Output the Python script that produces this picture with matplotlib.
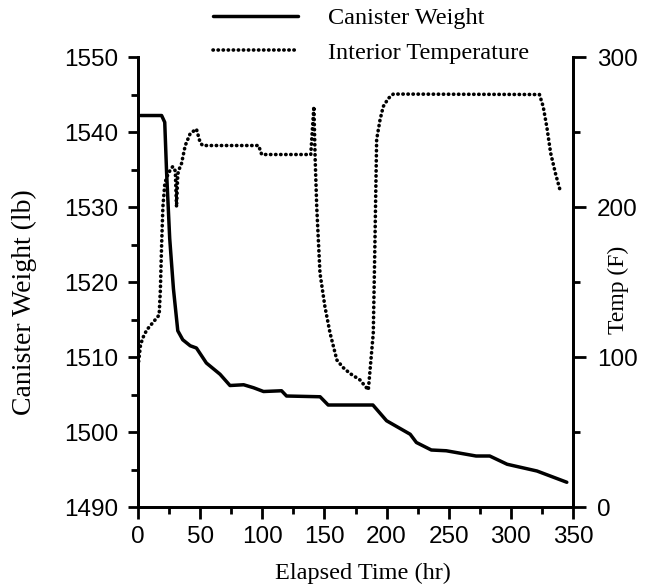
import matplotlib
matplotlib.use("Agg")
import matplotlib.pyplot as plt
from matplotlib.ticker import MultipleLocator

# ---- data ----
time_weight = [2, 19, 21.5, 23, 25.5, 28.5, 32, 36, 42, 47, 55, 66, 74, 85, 93,
               101, 115.5, 119.5, 146.5, 153, 189, 200, 219, 224, 236, 248,
               272, 283, 297, 321, 345]
weight_lb = [1542.2, 1542.2, 1541.3, 1534.6, 1525.8, 1519.1, 1513.5, 1512.3,
             1511.5, 1511.2, 1509.2, 1507.7, 1506.2, 1506.3, 1505.9, 1505.4,
             1505.5, 1504.8, 1504.7, 1503.6, 1503.6, 1501.5, 1499.7, 1498.6,
             1497.6, 1497.5, 1496.8, 1496.8, 1495.7, 1494.8, 1493.3]

time_temp = [0.5, 2, 4, 7, 11, 15, 17, 18, 19, 20, 21.5, 23, 24.5, 26, 28, 30,
             31, 32, 33.5, 35, 38, 42, 47, 50, 52, 97, 99.5, 139, 141.5, 142.5,
             143.8, 146.4, 150.4, 154.5, 160, 165, 170.6, 178.6, 185.3, 189.3,
             190.5, 192, 194.7, 197.3, 201.4, 205.4, 323, 326, 329, 332, 336, 340]
temp_f = [97, 108, 113, 118, 122, 126, 128, 145, 175, 200, 215, 220, 222, 225,
          227, 224, 200, 222, 226, 229, 241, 249, 252, 243, 241, 241, 235, 235,
          267, 233, 200, 156, 133.5, 116, 98, 93, 89, 84.7, 78, 116, 170, 245,
          258, 267, 272.4, 275.3, 275, 267, 253, 236, 222, 210]

x_ticks = [0, 50, 100, 150, 200, 250, 300, 350]
w_ticks = [1490, 1500, 1510, 1520, 1530, 1540, 1550]
t_ticks = [0, 100, 200, 300]

serif = "Liberation Serif"
sans = "Liberation Sans"

fig = plt.figure(figsize=(6.51, 5.86), dpi=100)
ax = fig.add_axes([0.2120, 0.1348, 0.6682, 0.7679])
ax2 = ax.twinx()

l1, = ax.plot(time_weight, weight_lb, color="black", lw=2.5,
              solid_joinstyle="round", solid_capstyle="round",
              label="Canister Weight")
l2, = ax2.plot(time_temp, temp_f, color="black", lw=2.6,
               linestyle=(0, (0.1, 1.3)), dash_capstyle="round",
               label="Interior Temperature")

ax.set_xlim(0, 350)
ax.set_ylim(1490, 1550)
ax2.set_ylim(0, 300)

ax.set_xticks(x_ticks)
ax.set_yticks(w_ticks)
ax2.set_yticks(t_ticks)
ax.xaxis.set_minor_locator(MultipleLocator(25))
ax.yaxis.set_minor_locator(MultipleLocator(5))
ax2.yaxis.set_minor_locator(MultipleLocator(50))

for a in (ax, ax2):
    a.spines["top"].set_visible(False)
    for s in a.spines.values():
        s.set_linewidth(2.0)
    a.tick_params(which="minor", length=5, width=2.0, direction="out")
    for lab in a.get_xticklabels() + a.get_yticklabels():
        lab.set_fontfamily(sans)

ax.tick_params(axis="x", which="major", length=8.6, width=2.0, labelsize=17.5, pad=5)
ax.tick_params(axis="y", which="major", length=7.2, width=2.0, labelsize=17.5, pad=7)
ax2.tick_params(axis="y", which="major", length=9.4, width=2.0, labelsize=17.5, pad=8)

ax.set_xlabel("Elapsed Time (hr)", fontfamily=serif, fontsize=17.5)
ax.xaxis.set_label_coords(0.517, -0.124)
ax.set_ylabel("Canister Weight (lb)", fontfamily=serif, fontsize=20)
ax.yaxis.set_label_coords(-0.232, 0.456)
ax2.set_ylabel("Temp (F)", fontfamily=serif, fontsize=17)
ax2.yaxis.set_label_coords(1.08, 0.482)

fig.legend(handles=[l1, l2], loc="upper left",
           bbox_to_anchor=(213 / 651, 1 - 7 / 586), frameon=False,
           borderpad=0, borderaxespad=0, handlelength=3.5, handletextpad=1.23,
           labelspacing=0.53, prop={"family": serif, "size": 17.5})

fig.savefig("out.png", dpi=100)
